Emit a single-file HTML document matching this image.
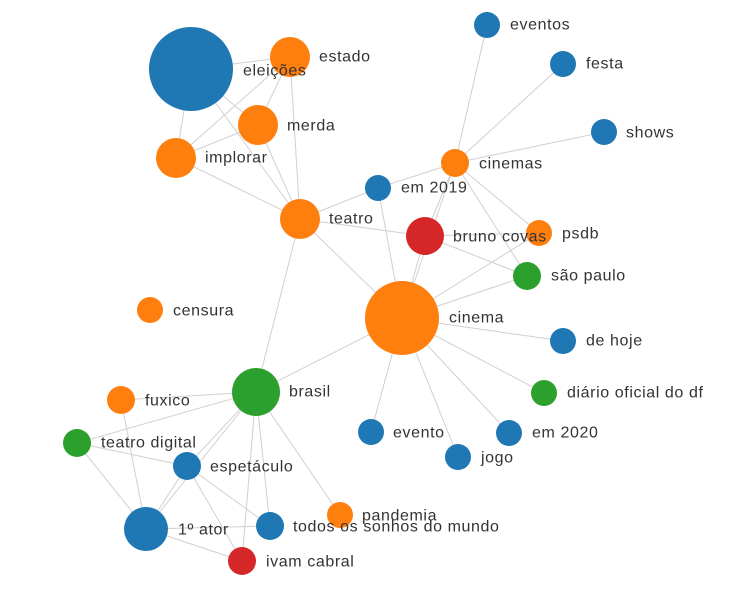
<!DOCTYPE html>
<html><head><meta charset="utf-8"><style>
html,body{margin:0;padding:0;background:#fff;}
svg text{font-family:"Liberation Sans",sans-serif;font-size:16px;letter-spacing:0.6px;fill:#333;dominant-baseline:central;}
</style></head><body>
<svg width="756" height="594" xmlns="http://www.w3.org/2000/svg">
<g stroke="#d0d0d0" stroke-width="1">
<line x1="191" y1="69" x2="290" y2="57"/><line x1="191" y1="69" x2="258" y2="125"/><line x1="191" y1="69" x2="176" y2="158"/><line x1="191" y1="69" x2="300" y2="219"/>
<line x1="290" y1="57" x2="176" y2="158"/><line x1="290" y1="57" x2="300" y2="219"/><line x1="290" y1="57" x2="258" y2="125"/>
<line x1="258" y1="125" x2="176" y2="158"/><line x1="258" y1="125" x2="300" y2="219"/><line x1="176" y1="158" x2="300" y2="219"/>
<line x1="300" y1="219" x2="378" y2="188"/><line x1="300" y1="219" x2="425" y2="236"/><line x1="300" y1="219" x2="402" y2="318"/><line x1="300" y1="219" x2="256" y2="392"/>
<line x1="455" y1="163" x2="487" y2="25"/><line x1="455" y1="163" x2="563" y2="64"/><line x1="455" y1="163" x2="604" y2="132"/><line x1="455" y1="163" x2="378" y2="188"/>
<line x1="455" y1="163" x2="425" y2="236"/><line x1="455" y1="163" x2="539" y2="233"/><line x1="455" y1="163" x2="527" y2="276"/><line x1="455" y1="163" x2="402" y2="318"/>
<line x1="425" y1="236" x2="539" y2="233"/><line x1="425" y1="236" x2="527" y2="276"/><line x1="425" y1="236" x2="402" y2="318"/><line x1="378" y1="188" x2="402" y2="318"/>
<line x1="402" y1="318" x2="527" y2="276"/><line x1="402" y1="318" x2="539" y2="233"/><line x1="402" y1="318" x2="563" y2="341"/><line x1="402" y1="318" x2="544" y2="393"/>
<line x1="402" y1="318" x2="509" y2="433"/><line x1="402" y1="318" x2="458" y2="457"/><line x1="402" y1="318" x2="371" y2="432"/><line x1="402" y1="318" x2="256" y2="392"/>
<line x1="256" y1="392" x2="121" y2="400"/><line x1="256" y1="392" x2="77" y2="443"/><line x1="256" y1="392" x2="187" y2="466"/><line x1="256" y1="392" x2="146" y2="529"/>
<line x1="256" y1="392" x2="270" y2="526"/><line x1="256" y1="392" x2="242" y2="561"/><line x1="256" y1="392" x2="340" y2="515"/>
<line x1="121" y1="400" x2="146" y2="529"/><line x1="77" y1="443" x2="187" y2="466"/><line x1="77" y1="443" x2="146" y2="529"/>
<line x1="187" y1="466" x2="146" y2="529"/><line x1="187" y1="466" x2="270" y2="526"/><line x1="187" y1="466" x2="242" y2="561"/>
<line x1="146" y1="529" x2="270" y2="526"/><line x1="146" y1="529" x2="242" y2="561"/>
</g>
<g>
<circle cx="191" cy="69" r="42" fill="#1f77b4"/><circle cx="290" cy="57" r="20" fill="#ff7f0e"/><circle cx="258" cy="125" r="20" fill="#ff7f0e"/>
<circle cx="176" cy="158" r="20" fill="#ff7f0e"/><circle cx="300" cy="219" r="20" fill="#ff7f0e"/>
<circle cx="487" cy="25" r="13" fill="#1f77b4"/><circle cx="563" cy="64" r="13" fill="#1f77b4"/><circle cx="604" cy="132" r="13" fill="#1f77b4"/>
<circle cx="455" cy="163" r="14" fill="#ff7f0e"/><circle cx="378" cy="188" r="13" fill="#1f77b4"/><circle cx="425" cy="236" r="19" fill="#d62728"/>
<circle cx="539" cy="233" r="13" fill="#ff7f0e"/><circle cx="527" cy="276" r="14" fill="#2ca02c"/><circle cx="402" cy="318" r="37" fill="#ff7f0e"/>
<circle cx="150" cy="310" r="13" fill="#ff7f0e"/><circle cx="563" cy="341" r="13" fill="#1f77b4"/><circle cx="256" cy="392" r="24" fill="#2ca02c"/>
<circle cx="121" cy="400" r="14" fill="#ff7f0e"/><circle cx="544" cy="393" r="13" fill="#2ca02c"/><circle cx="77" cy="443" r="14" fill="#2ca02c"/>
<circle cx="371" cy="432" r="13" fill="#1f77b4"/><circle cx="509" cy="433" r="13" fill="#1f77b4"/><circle cx="458" cy="457" r="13" fill="#1f77b4"/>
<circle cx="187" cy="466" r="14" fill="#1f77b4"/><circle cx="340" cy="515" r="13" fill="#ff7f0e"/><circle cx="146" cy="529" r="22" fill="#1f77b4"/>
<circle cx="270" cy="526" r="14" fill="#1f77b4"/><circle cx="242" cy="561" r="14" fill="#d62728"/>
</g>
<g>
<text x="243" y="71">eleições</text><text x="319" y="57">estado</text><text x="287" y="126">merda</text><text x="205" y="158">implorar</text>
<text x="329" y="219">teatro</text><text x="510" y="25">eventos</text><text x="586" y="64">festa</text><text x="626" y="133">shows</text>
<text x="479" y="164">cinemas</text><text x="401" y="188">em 2019</text><text x="453" y="237">bruno covas</text><text x="562" y="234">psdb</text>
<text x="551" y="276">são paulo</text><text x="449" y="318">cinema</text><text x="173" y="311">censura</text><text x="586" y="341">de hoje</text>
<text x="289" y="392">brasil</text><text x="145" y="401">fuxico</text><text x="567" y="393">diário oficial do df</text><text x="101" y="443">teatro digital</text>
<text x="393" y="433">evento</text><text x="532" y="433">em 2020</text><text x="481" y="458">jogo</text><text x="210" y="467">espetáculo</text>
<text x="362" y="516">pandemia</text><text x="178" y="530">1º ator</text><text x="293" y="527">todos os sonhos do mundo</text><text x="266" y="562">ivam cabral</text>
</g>
</svg>
</body></html>
